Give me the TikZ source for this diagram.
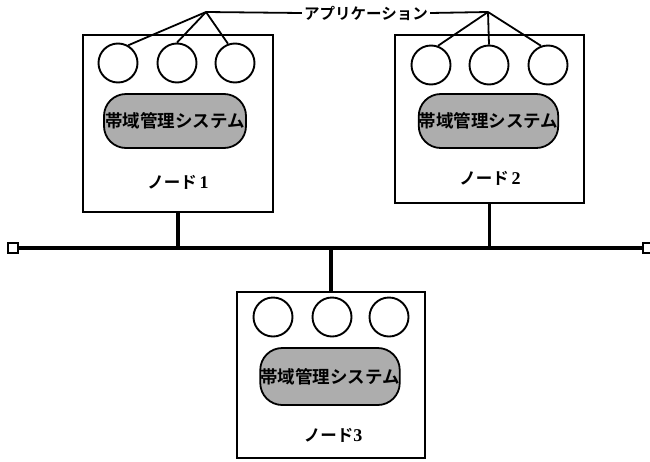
\documentclass[tikz,border=0pt]{standalone}
\usepackage{fontspec}
\newfontfamily\jp{Noto Sans CJK JP Bold}
\newfontfamily\digitfont{Liberation Serif}
\tikzset{
  x=1pt, y=-1pt,
  hostbox/.style={draw, line width=1.7pt, rectangle, inner sep=0pt},
  app/.style={draw, line width=1.9pt, circle, minimum size=39pt, inner sep=0pt},
  mgr/.style={draw, line width=1.8pt, rectangle, rounded corners=22pt, fill=black!32,
              minimum width=142pt, minimum height=54pt, inner sep=0pt,
              font=\jp\fontsize{17.5}{17.5}\selectfont},
  hostname/.style={font=\jp\fontsize{16.5}{16.5}\selectfont, inner sep=0pt},
  applink/.style={line width=1.8pt},
  bus/.style={line width=4.6pt},
  stem/.style={line width=3.3pt},
  busend/.style={draw, line width=2pt, rectangle, minimum size=10pt, inner sep=0pt, fill=white},
}
\newcommand{\nodenum}[1]{{\digitfont\bfseries\fontsize{18}{18}\selectfont #1}}
\begin{document}
\begin{tikzpicture}
\useasboundingbox (0,0) rectangle (650,461);

% three host boxes
\node[hostbox, minimum width=190pt, minimum height=177pt] (h1) at (178,123.5) {};
\node[hostbox, minimum width=189pt, minimum height=168pt] (h2) at (489.5,119) {};
\node[hostbox, minimum width=188pt, minimum height=166pt] (h3) at (331,375) {};

% applications
\node[app] (a11) at (118,63) {};
\node[app] (a12) at (177,63) {};
\node[app] (a13) at (235,63) {};
\node[app] (a21) at (431,65) {};
\node[app] (a22) at (489,65) {};
\node[app] (a23) at (548,65) {};
\node[app] (a31) at (273,317) {};
\node[app] (a32) at (332,317) {};
\node[app] (a33) at (389,317) {};

% management systems
\node[mgr] (m1) at (175,121) {帯域管理システム};
\node[mgr, minimum width=137pt] (m2) at (488.5,121) {帯域管理システム};
\node[mgr, minimum width=134pt, minimum height=57pt] (m3) at (330,376.5) {帯域管理システム};

% host names
\node[hostname] (n1) at (178,182) {ノード\,\nodenum{1}};
\node[hostname] (n2) at (490,178) {ノード\,\nodenum{2}};
\node[hostname] (n3) at (333,435) {ノード\nodenum{3}};

% application callout
\node[font=\jp\fontsize{15.5}{15.5}\selectfont, inner sep=2pt] (lbl) at (366,13) {アプリケーション};
\coordinate (p1) at (206,12);
\coordinate (p2) at (488,12);
\draw[applink] (lbl.west) -- (p1);
\draw[applink] (lbl.east) -- (p2);
\draw[applink] (p1) -- (a11.60);
\draw[applink] (p1) -- (a12.north);
\draw[applink] (p1) -- (a13.110);
\draw[applink] (p2) -- (a21.70);
\draw[applink] (p2) -- (a22.north);
\draw[applink] (p2) -- (a23.110);

% network bus
\node[busend] (bl) at (13,248) {};
\node[busend] (br) at (648,248) {};
\draw[bus] (bl.east) -- (br.west);

% drops
\draw[stem] (h1.south) -- (h1.south |- bl.center);
\draw[stem] (h2.south) -- (h2.south |- bl.center);
\draw[stem] (h3.north) -- (h3.north |- bl.center);
\end{tikzpicture}
\end{document}
